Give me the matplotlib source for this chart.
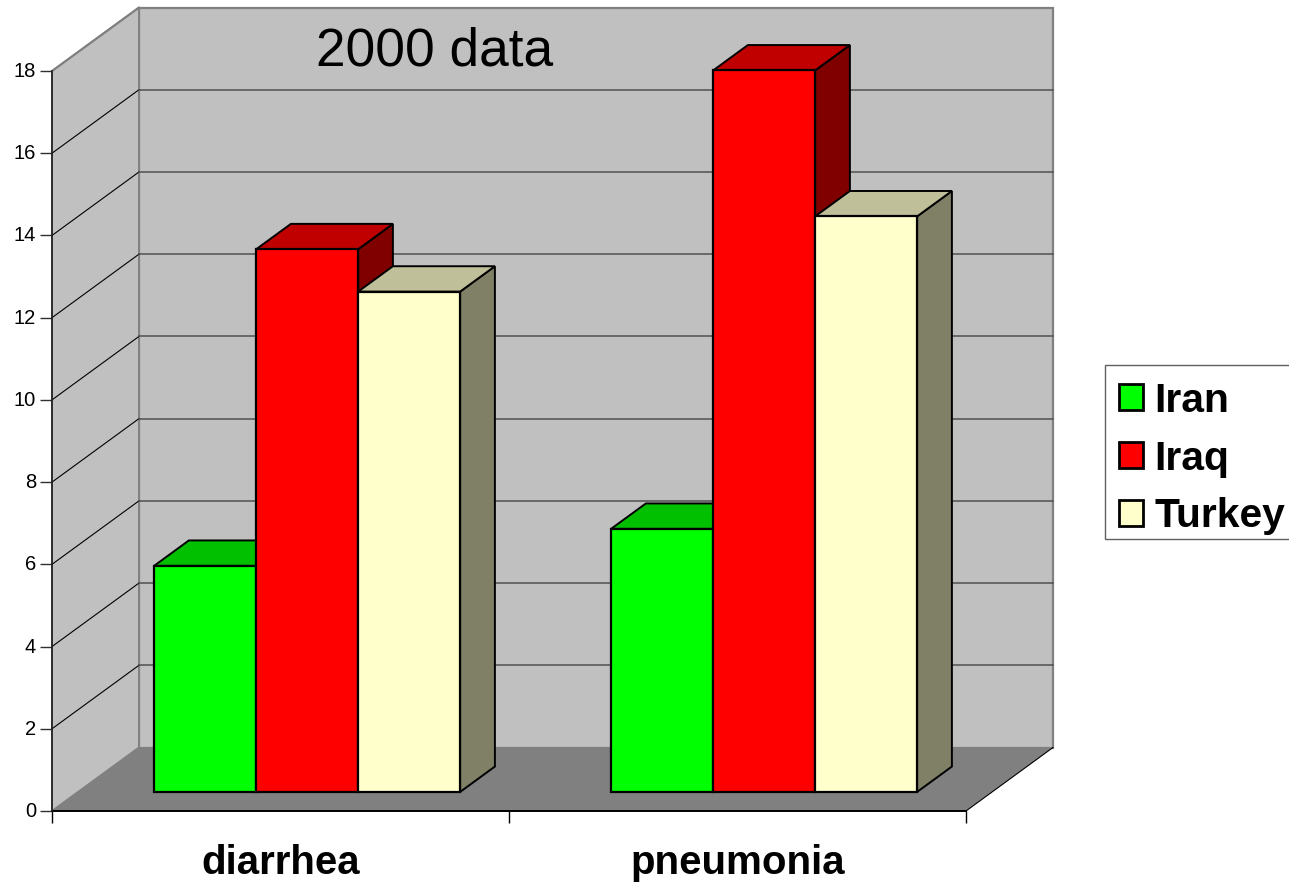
import matplotlib
matplotlib.use('Agg')
import matplotlib.pyplot as plt
from matplotlib.patches import Polygon, Patch, Rectangle
from matplotlib.legend_handler import HandlerPatch
from matplotlib.transforms import ScaledTranslation

plt.rcParams['font.family'] = ['Liberation Sans', 'DejaVu Sans']

categories = ['diarrhea', 'pneumonia']
series_names = ['Iran', 'Iraq', 'Turkey']
iran = [5.5, 6.4]
iraq = [13.2, 17.55]
turkey = [12.17, 14.0]
y_ticks = [0, 2, 4, 6, 8, 10, 12, 14, 16, 18]

front_colors = ['#00FF00', '#FF0000', '#FFFFCC']
top_colors = ['#00C000', '#C00000', '#BFBF99']
side_colors = ['#008000', '#800000', '#808066']

W, H = 1289, 882
# depth of the back wall, in data units (x is categories, y is value)
DX = 87 / 457
DY = 63.5 / (740 / 18)
BAR_NEAR = 0.3
BAR_FAR = 0.7
BAR_W = 102 / 457
BAR_START = 76 / 457

fig = plt.figure(figsize=(W / 100, H / 100), dpi=100)
ax = fig.add_axes([52 / W, 1 - 811 / H, 914 / W, 740 / H])
ax.set_xlim(0, 2)
ax.set_ylim(0, 18)
for s in ax.spines.values():
    s.set_visible(False)
ax.patch.set_visible(False)


def poly(pts, fc, ec='none', lw=0, z=1):
    ax.add_patch(Polygon(pts, closed=True, facecolor=fc, edgecolor=ec, linewidth=lw,
                         zorder=z, clip_on=False, joinstyle='miter'))


top = 18
# back wall, left wall, floor
poly([(DX, DY), (2 + DX, DY), (2 + DX, top + DY), (DX, top + DY)], '#C0C0C0', '#808080', 1.6)
poly([(0, 0), (DX, DY), (DX, top + DY), (0, top)], '#C0C0C0', '#808080', 1.4)
poly([(0, 0), (2, 0), (2 + DX, DY), (DX, DY)], '#808080')

# grid
for v in y_ticks[1:-1]:
    ax.plot([0, DX], [v, v + DY], color='black', lw=0.8, zorder=2, clip_on=False)
    ax.plot([DX, 2 + DX], [v + DY, v + DY], color='#505050', lw=1.1, zorder=2, clip_on=False)
ax.plot([0, DX], [top, top + DY], color='#808080', lw=1.4, zorder=2, clip_on=False)
ax.plot([2, 2 + DX], [0, DY], color='black', lw=0.8, zorder=2, clip_on=False)
ax.plot([0, 2], [0, 0], color='black', lw=1.4, zorder=2, clip_on=False)
ax.plot([0, 0], [0, top], color='#202020', lw=1.2, zorder=2, clip_on=False)

# bars, drawn left to right so each one covers the previous side face
z = 3
for c in range(len(categories)):
    for i, vals in enumerate([iran, iraq, turkey]):
        v = vals[c]
        x0 = c + BAR_START + i * BAR_W + BAR_NEAR * DX
        x1 = x0 + BAR_W
        y0 = BAR_NEAR * DY
        y1 = y0 + v
        d = (BAR_FAR - BAR_NEAR)
        ddx, ddy = d * DX, d * DY
        poly([(x1, y0), (x1 + ddx, y0 + ddy), (x1 + ddx, y1 + ddy), (x1, y1)],
             side_colors[i], 'black', 1.4, z)
        poly([(x0, y1), (x1, y1), (x1 + ddx, y1 + ddy), (x0 + ddx, y1 + ddy)],
             top_colors[i], 'black', 1.4, z)
        poly([(x0, y0), (x1, y0), (x1, y1), (x0, y1)],
             front_colors[i], 'black', 1.6, z)
        z += 1

ax.set_yticks(y_ticks)
ax.tick_params(axis='y', length=8.6, width=1, color='#303030', labelsize=14.5, pad=3)
up = ScaledTranslation(0, 1.5 / 100, fig.dpi_scale_trans)
for lab in ax.get_yticklabels():
    lab.set_transform(lab.get_transform() + up)
ax.set_xticks([0, 1, 2])
ax.set_xticklabels([])
ax.tick_params(axis='x', which='major', length=8.6, width=1, color='black')
ax.set_xticks([0.5, 1.5], minor=True)
ax.set_xticklabels(categories, minor=True, fontsize=29, fontweight='bold')
ax.tick_params(axis='x', which='minor', length=0, pad=23.7)

fig.text(435 / W, 1 - 66 / H, '2000 data', fontsize=38.3, ha='center', va='baseline')

# legend frame runs past the right edge of the picture
fig.add_artist(Rectangle((1105 / W, 1 - 539 / H), 200 / W, 174 / H, transform=fig.transFigure,
                         facecolor='white', edgecolor='#606060', linewidth=1.0, zorder=1))
handles = [Patch(facecolor=front_colors[i], edgecolor='black', linewidth=2) for i in range(3)]
leg = fig.legend(handles, series_names, loc='upper left', bbox_to_anchor=(1105 / W, 1 - 372 / H),
                 bbox_transform=fig.transFigure, borderaxespad=0, frameon=False,
                 prop={'size': 29.3, 'weight': 'bold'}, handlelength=0.71, handleheight=0.6,
                 handletextpad=0.27, labelspacing=0.49, borderpad=0.235,
                 handler_map={Patch: HandlerPatch(xpad=0.1)})
leg.set_zorder(2)

fig.savefig('out.png', dpi=100)
